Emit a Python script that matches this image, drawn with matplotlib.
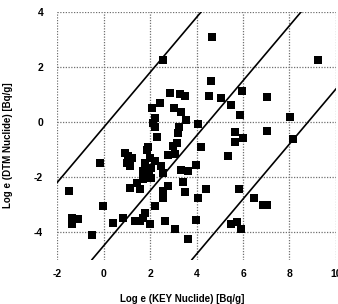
import matplotlib
matplotlib.use("Agg")
import matplotlib.pyplot as plt

plt.rcParams['font.family'] = ['Liberation Sans', 'DejaVu Sans']

# KEY nuclide (x) vs DTM nuclide (y), natural-log values
x_key = [4.66, 2.54, 9.22, 4.61, 5.95, 7.03, 4.53, 5.04, 5.47, 5.86, 8.02, 8.15, 7.03, 5.65, 5.99, 5.65, 4.18,
         2.84, 3.28, 3.49, 3.02, 3.32, 3.53, 4.05, 3.23, 3.19, 3.15, 2.97,
         2.07, 2.41, 2.20, 2.11, 2.20, 2.28, 1.90,
         1.98, 2.76, 3.06, 2.20, 3.97, 2.03, 2.46, 2.54, 3.32, 3.62, 1.94, 5.34,
         -0.17, 0.91, 1.03, 1.21, 0.99, 1.12, 1.85, 1.77, 1.68,
         3.41, 3.49, 4.40, 4.05, 5.82, 6.47, 6.85, 7.03, 3.97, 5.47, 5.73, 5.91, 3.06, 3.62,
         2.03, 2.54, 2.76, 2.54, 2.20, 1.98, 2.63,
         -1.47, -0.04, -1.38, -1.12, -1.38, -0.52, 0.39, 0.82, 1.34, 1.55, 1.68, 1.77, 1.12, 1.42, 1.55, 1.68]
y_dtm = [3.09, 2.25, 2.25, 1.49, 1.13, 0.91, 0.95, 0.87, 0.62, 0.25, 0.18, -0.62, -0.33, -0.36, -0.58, -0.73, -0.91,
         1.05, 1.02, 0.95, 0.51, 0.36, 0.07, -0.07, -0.18, -0.40, -0.76, -0.87,
         0.51, 0.69, 0.15, -0.04, -0.18, -0.55, -0.91,
         -1.31, -1.20, -1.16, -1.42, -1.56, -1.67, -1.60, -1.85, -1.75, -1.78, -1.78, -1.24,
         -1.49, -1.13, -1.24, -1.31, -1.49, -1.60, -1.02, -1.49, -1.78,
         -2.18, -2.55, -2.44, -2.76, -2.44, -2.76, -3.02, -3.02, -3.56, -3.71, -3.64, -3.89, -3.89, -4.25,
         -2.04, -2.51, -2.33, -2.76, -3.05, -3.71, -3.60,
         -2.51, -3.05, -3.49, -3.53, -3.71, -4.11, -3.67, -3.49, -3.60, -3.60, -3.49, -3.31, -2.40, -2.22, -2.44, -2.07]

# reference lines y = x + c
line_intercepts = [-0.2, -4.5, -8.8]

x_ticks = [-2, 0, 2, 4, 6, 8, 10]
y_ticks = [-4, -2, 0, 2, 4]

fig = plt.figure(figsize=(3.38, 3.04), dpi=100)
ax = fig.add_axes([0.169, 0.146, 0.825, 0.815])

ax.set_xlim(-2, 10)
ax.set_ylim(-5, 4)

for c in line_intercepts:
    ax.axline((0, c), slope=1, color='black', lw=1.2, zorder=2)

ax.scatter(x_key, y_dtm, marker='s', s=30, color='black', linewidths=0, zorder=3)

ax.set_xticks(x_ticks)
ax.set_yticks(y_ticks)
ax.set_xticklabels([str(t) for t in x_ticks], fontsize=7.5, fontweight='bold')
ax.set_yticklabels([str(t) for t in y_ticks], fontsize=7.5, fontweight='bold')
ax.tick_params(axis='both', length=0)
ax.tick_params(axis='x', pad=7)
ax.tick_params(axis='y', pad=10)

ax.grid(True, color='#707070', linestyle=(0, (1, 1.2)), linewidth=0.9)
for s in ax.spines.values():
    s.set_visible(False)
ax.set_axisbelow(True)

ax.set_xlabel('Log e (KEY Nuclide) [Bq/g]', fontsize=7, fontweight='bold')
ax.set_ylabel('Log e (DTM Nuclide) [Bq/g]', fontsize=7, fontweight='bold')
ax.xaxis.set_label_coords(0.45, -0.14)
ax.yaxis.set_label_coords(-0.16, 0.46)

fig.savefig('out.png', dpi=100)
